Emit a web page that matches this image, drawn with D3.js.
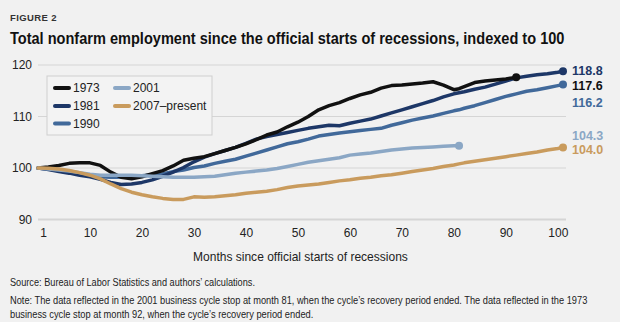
<!DOCTYPE html>
<html>
<head>
<meta charset="utf-8">
<script src="https://cdnjs.cloudflare.com/ajax/libs/d3/7.8.5/d3.min.js"></script>
<style>
  body { margin: 0; background: #f1f1f1; }
  svg { display: block; }
</style>
</head>
<body>
<div class="canvas"></div>
<script>
// months since the start of each recession (sampled every 2 months)
const months = [0, 2, 4, 6, 8, 10, 12, 14, 16, 18, 20, 22, 24, 26, 28, 30, 32, 34, 36, 38,
    40, 42, 44, 46, 48, 50, 52, 54, 56, 58, 60, 62, 64, 66, 68, 70, 72, 74, 76, 78,
    80, 81, 82, 84, 86, 88, 90, 92, 94, 96, 98, 100, 101];

const cycles = ['1973', '1981', '1990', '2001', '2007\u2013present'];

// employment indexed to 100 at the official start
const emp1973 = [100, 100.2, 100.5, 100.9, 101.0, 101.0, 100.5, 99.2, 98.2, 97.9, 98.3, 98.9, 99.5, 100.4, 101.5, 101.9, 102.2, 102.8, 103.4, 104.0,
    104.7, 105.5, 106.4, 107.0, 108.0, 108.9, 110.0, 111.3, 112.1, 112.7, 113.5, 114.2, 114.7, 115.5, 116.0, 116.1, 116.3, 116.5, 116.75, 116.1,
    115.2, 115.4, 115.8, 116.6, 116.9, 117.1, 117.3, 117.6, null, null, null, null, null];
const emp1981 = [100, 99.7, 99.3, 99.0, 98.6, 98.3, 97.8, 97.2, 96.8, 96.9, 97.2, 97.7, 98.4, 99.2, 100.1, 101.2, 102.1, 102.8, 103.4, 104.0,
    104.8, 105.6, 106.1, 106.5, 106.9, 107.3, 107.7, 108.0, 108.3, 108.2, 108.7, 109.1, 109.5, 110.1, 110.7, 111.3, 111.9, 112.5, 113.1, 113.8,
    114.4, 114.6, 114.8, 115.3, 115.7, 116.3, 116.9, 117.5, 117.8, 118.1, 118.3, 118.6, 118.8];
const emp1990 = [100, 99.8, 99.5, 99.2, 98.9, 98.5, 98.3, 98.2, 98.2, 98.3, 98.5, 98.7, 98.9, 99.3, 99.6, 100.1, 100.4, 100.9, 101.3, 101.7,
    102.3, 102.9, 103.5, 104.1, 104.7, 105.1, 105.6, 106.2, 106.5, 106.8, 107.05, 107.3, 107.5, 107.7, 108.3, 108.8, 109.3, 109.7, 110.1, 110.6,
    111.1, 111.3, 111.6, 112.1, 112.7, 113.3, 113.9, 114.4, 114.9, 115.2, 115.6, 116.0, 116.2];
const emp2001 = [100, 99.8, 99.6, 99.4, 99.1, 98.8, 98.6, 98.6, 98.6, 98.6, 98.5, 98.4, 98.3, 98.2, 98.2, 98.2, 98.3, 98.4, 98.7, 99.0,
    99.2, 99.4, 99.6, 99.9, 100.3, 100.7, 101.1, 101.4, 101.7, 102.0, 102.5, 102.7, 102.9, 103.2, 103.5, 103.7, 103.9, 104.0, 104.1, 104.2,
    104.3, 104.3, null, null, null, null, null, null, null, null, null, null, null];
const emp2007 = [100, 99.95, 99.8, 99.5, 99.1, 98.6, 97.9, 96.9, 96.0, 95.3, 94.8, 94.4, 94.1, 93.9, 93.9, 94.4, 94.3, 94.4, 94.6, 94.8,
    95.1, 95.3, 95.5, 95.8, 96.2, 96.5, 96.7, 96.9, 97.2, 97.5, 97.7, 98.0, 98.2, 98.5, 98.7, 99.0, 99.3, 99.6, 99.9, 100.3,
    100.6, 100.8, 101.0, 101.3, 101.6, 101.9, 102.2, 102.5, 102.8, 103.1, 103.5, 103.8, 104.0];

const yTicks = [90, 100, 110, 120];
const xTicks = [1, 10, 20, 30, 40, 50, 60, 70, 80, 90, 100];

const colors = ['#111111', '#1d3767', '#41699a', '#8ba7c5', '#c99b5d'];
// nudges (px) so the end labels don't collide
const labelShift = [8.5, -0.5, 18, -10, 2];
// stacking: first drawn sits at the bottom
const drawOrder = [2, 1, 0, 3, 4];

const dims = { width: 620, height: 322 };
const fontBody = "'Liberation Sans', Arial, sans-serif";

const svg = d3.select('.canvas')
    .append('svg')
    .attr('width', dims.width)
    .attr('height', dims.height);

svg.append('rect')
    .attr('width', dims.width)
    .attr('height', dims.height)
    .attr('fill', '#f1f1f1');

const x = d3.scaleLinear().domain([0, 101]).range([38, 563]);
const y = d3.scaleLinear().domain([90, 120]).range([219.5, 65]);

// squeeze a text horizontally to a given width (no condensed face installed)
function squeeze(sel, width) {
    sel.each(function() {
        const node = this;
        const w = node.getComputedTextLength();
        const x0 = +node.getAttribute('x');
        const k = Math.min(1, width / w);
        d3.select(node).attr('transform', `translate(${x0},0) scale(${k},1) translate(${-x0},0)`);
    });
}

// headings
svg.append('text')
    .attr('x', 10).attr('y', 21)
    .attr('font-family', fontBody)
    .attr('font-size', 9.5)
    .attr('font-weight', 'bold')
    .attr('letter-spacing', 0.4)
    .attr('fill', '#333')
    .text('FIGURE 2');

svg.append('text')
    .attr('x', 10).attr('y', 44)
    .attr('font-family', fontBody)
    .attr('font-size', 16.5)
    .attr('font-weight', 'bold')
    .attr('fill', '#111')
    .text('Total nonfarm employment since the official starts of recessions, indexed to 100')
    .call(squeeze, 555);

// gridlines
const grid = svg.append('g');
grid.selectAll('line')
    .data(yTicks)
    .enter()
    .append('line')
    .attr('x1', x.range()[0])
    .attr('x2', x.range()[1] + 3)
    .attr('y1', d => y(d))
    .attr('y2', d => y(d))
    .attr('stroke', '#d5d5d5')
    .attr('stroke-width', d => d === 90 ? 2 : 1);

// axes (labels only)
const yAxis = d3.axisLeft(y).tickValues(yTicks).tickSize(0).tickPadding(0);
svg.append('g')
    .attr('transform', 'translate(32,0)')
    .call(yAxis)
    .call(g => g.select('.domain').remove())
    .selectAll('text')
    .attr('font-family', fontBody)
    .attr('font-size', 12)
    .attr('fill', '#222');

const xAxis = d3.axisBottom(x).tickValues(xTicks).tickSize(0).tickPadding(0);
svg.append('g')
    .attr('transform', `translate(0,${y(90) + 9})`)
    .call(xAxis)
    .call(g => g.select('.domain').remove())
    .selectAll('text')
    .attr('font-family', fontBody)
    .attr('font-size', 12)
    .attr('fill', '#222');

svg.append('text')
    .attr('x', 193).attr('y', 261)
    .attr('font-family', fontBody)
    .attr('font-size', 13)
    .attr('fill', '#222')
    .text('Months since official starts of recessions')
    .call(squeeze, 215);

// series
const series = [emp1973, emp1981, emp1990, emp2001, emp2007].map((vals, i) => ({
    name: cycles[i],
    color: colors[i],
    shift: labelShift[i],
    points: months.map((m, j) => ({ m: m, v: vals[j] }))
}));
series.forEach(s => {
    const valid = s.points.filter(p => p.v != null);
    s.last = valid[valid.length - 1];
});

const line = d3.line()
    .defined(d => d.v != null)
    .x(d => x(d.m))
    .y(d => y(d.v));

const plot = svg.append('g');
const ordered = drawOrder.map(i => series[i]);

plot.selectAll('path')
    .data(ordered)
    .enter()
    .append('path')
    .attr('d', d => line(d.points))
    .attr('fill', 'none')
    .attr('stroke', d => d.color)
    .attr('stroke-width', 3.5)
    .attr('stroke-linejoin', 'round')
    .attr('stroke-linecap', 'round');

plot.selectAll('circle')
    .data(ordered)
    .enter()
    .append('circle')
    .attr('cx', d => x(d.last.m))
    .attr('cy', d => y(d.last.v))
    .attr('r', 4)
    .attr('fill', d => d.color);

// end values, stacked to the right of the plot
svg.append('g')
    .selectAll('text')
    .data(series)
    .enter()
    .append('text')
    .attr('x', 572)
    .attr('y', d => y(d.last.v) + d.shift)
    .attr('dy', '0.36em')
    .attr('font-family', fontBody)
    .attr('font-size', 12.5)
    .attr('font-weight', 'bold')
    .attr('fill', d => d.color)
    .text(d => d3.format('.1f')(d.last.v));

// legend
const legend = svg.append('g');
legend.append('rect')
    .attr('x', 47).attr('y', 76)
    .attr('width', 165).attr('height', 59)
    .attr('fill', '#f3f3f3')
    .attr('stroke', '#cfcfcf');

const items = legend.selectAll('g.item')
    .data(series)
    .enter()
    .append('g')
    .attr('class', 'item')
    .attr('transform', (d, i) => `translate(${i < 3 ? 54 : 114},${[88, 106, 123.5][i < 3 ? i : i - 3]})`);

items.append('line')
    .attr('x1', 1).attr('x2', 15)
    .attr('stroke', d => d.color)
    .attr('stroke-width', 4)
    .attr('stroke-linecap', 'round');

items.append('text')
    .attr('x', 19)
    .attr('dy', '0.36em')
    .attr('font-family', fontBody)
    .attr('font-size', 12)
    .attr('fill', '#222')
    .text(d => d.name);

// footnotes
const notes = [
    'Source: Bureau of Labor Statistics and authors\u2019 calculations.',
    'Note: The data reflected in the 2001 business cycle stop at month 81, when the cycle\u2019s recovery period ended. The data reflected in the 1973',
    'business cycle stop at month 92, when the cycle\u2019s recovery period ended.'
];
const noteWidths = [245, 578, 304];
svg.append('g')
    .selectAll('text')
    .data(notes)
    .enter()
    .append('text')
    .attr('x', 10)
    .attr('y', (d, i) => [286, 304, 318][i])
    .attr('font-family', fontBody)
    .attr('font-size', 10.5)
    .attr('fill', '#222')
    .text(d => d)
    .each(function(d, i) { d3.select(this).call(squeeze, noteWidths[i]); });
</script>
</body>
</html>
